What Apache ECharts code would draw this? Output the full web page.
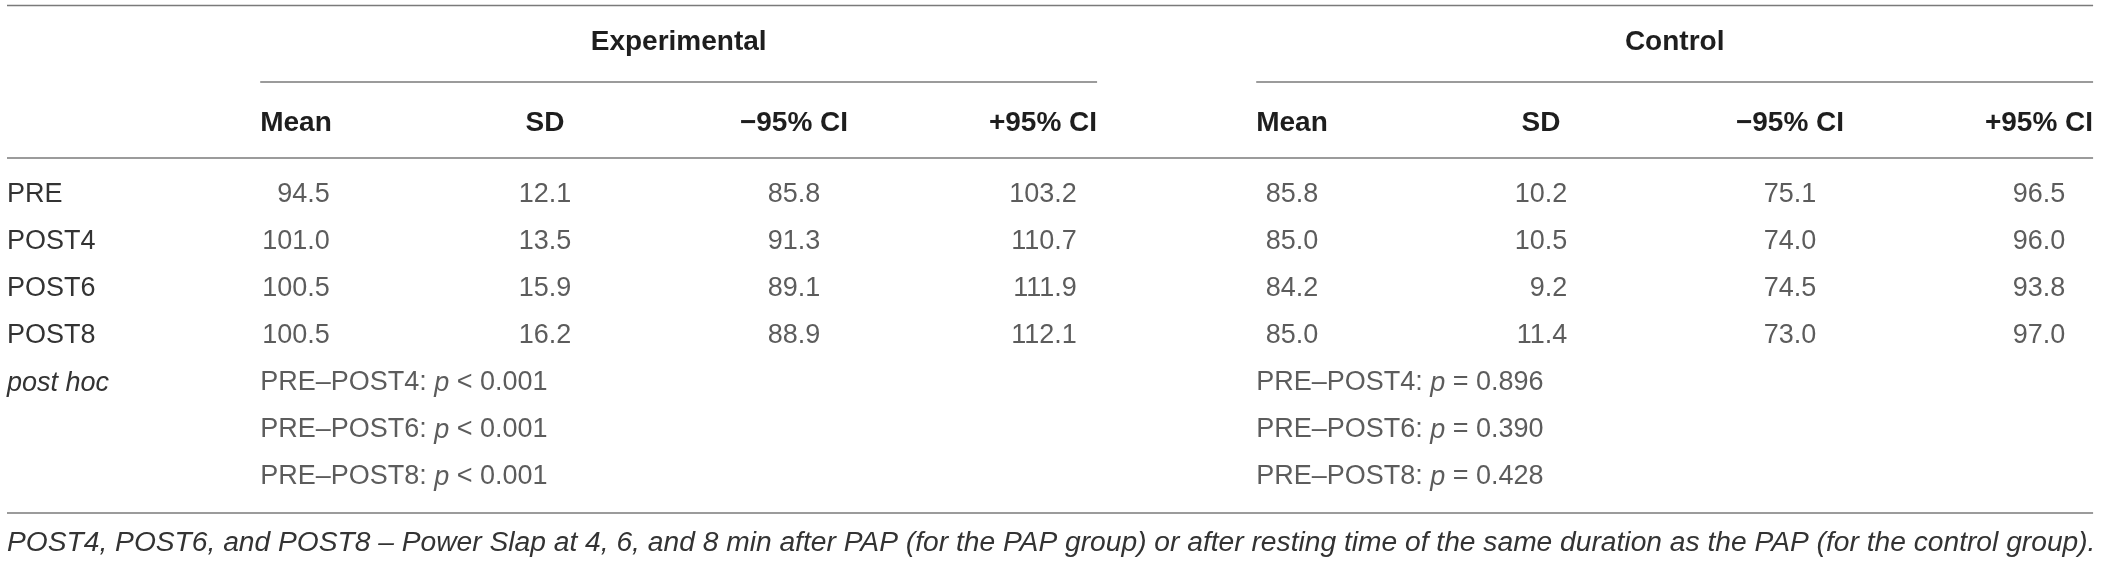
<!DOCTYPE html>
<html>
<head>
<meta charset="utf-8">
<script src="https://cdn.jsdelivr.net/npm/echarts@6.0.0/dist/echarts.min.js"></script>
<style>
  html, body { margin: 0; padding: 0; background: #fff; }
  #chart { width: 2119px; height: 562px; }
</style>
</head>
<body>
<div id="chart"></div>
<script>
// 表格数据
const groups = ['Experimental', 'Control'];
const columns = ['Mean', 'SD', '\u221295% CI', '+95% CI', 'Mean', 'SD', '\u221295% CI', '+95% CI'];
const rowLabels = ['PRE', 'POST4', 'POST6', 'POST8', 'post hoc', '', ''];

const expMean = [94.5, 101.0, 100.5, 100.5];
const expSD = [12.1, 13.5, 15.9, 16.2];
const expLow = [85.8, 91.3, 89.1, 88.9];
const expHigh = [103.2, 110.7, 111.9, 112.1];
const ctrlMean = [85.8, 85.0, 84.2, 85.0];
const ctrlSD = [10.2, 10.5, 9.2, 11.4];
const ctrlLow = [75.1, 74.0, 74.5, 73.0];
const ctrlHigh = [96.5, 96.0, 93.8, 97.0];

const postHocPairs = ['PRE\u2013POST4', 'PRE\u2013POST6', 'PRE\u2013POST8'];
const expPostHoc = ['< 0.001', '< 0.001', '< 0.001'];
const ctrlPostHoc = ['= 0.896', '= 0.390', '= 0.428'];

const footnote = 'POST4, POST6, and POST8 \u2013 Power Slap at 4, 6, and 8 min after PAP (for the PAP group) or after resting time of the same duration as the PAP (for the control group).';

const FONT = '"Liberation Sans", Arial, Helvetica, sans-serif';
const BODY_SIZE = 27;
const HEAD_SIZE = 28;
const NOTE_SIZE = 28.2;
const textColor = '#333';
const headColor = '#1e1e1e';
const ruleColor = '#7a7a7a';

const ctx = document.createElement('canvas').getContext('2d');
function measure(text, font) {
  ctx.font = font;
  return ctx.measureText(text).width;
}
const bodyFont = BODY_SIZE + 'px ' + FONT;
const headFont = 'bold ' + HEAD_SIZE + 'px ' + FONT;
const headW = columns.map((c) => measure(c, headFont));

const valueColumns = [expMean, expSD, expLow, expHigh, ctrlMean, ctrlSD, ctrlLow, ctrlHigh];

const italic = {
  fontStyle: 'italic',
  fontFamily: FONT,
  fontSize: BODY_SIZE,
  color: textColor,
};

// 数值列：右对齐，最宽的数居中于表头
const numberSeries = valueColumns.map((values, c) => {
  const widest = Math.max(...values.map((v) => measure(v.toFixed(1), bodyFont)));
  return {
    type: 'scatter',
    symbolSize: 0,
    silent: true,
    data: values.map((v, r) => [c, r, v]),
    label: {
      show: true,
      position: 'inside',
      align: 'right',
      verticalAlign: 'middle',
      offset: [widest / 2, 0],
      fontFamily: FONT,
      fontSize: BODY_SIZE,
      color: textColor,
      formatter: (p) => p.value[2].toFixed(1),
    },
  };
});

const postHocSeries = [expPostHoc, ctrlPostHoc].map((tests, g) => ({
  type: 'scatter',
  symbolSize: 0,
  silent: true,
  data: tests.map((t, i) => [g * 4, 4 + i, postHocPairs[i], t]),
  label: {
    show: true,
    position: 'inside',
    align: 'left',
    verticalAlign: 'middle',
    offset: [-headW[g * 4] / 2, 0],
    fontFamily: FONT,
    fontSize: BODY_SIZE,
    color: textColor,
    formatter: (p) => p.value[2] + ': {i|p} ' + p.value[3],
    rich: { i: italic },
  },
}));

const gridLeft = 296;
const labelLeft = 7;

const chart = echarts.init(document.getElementById('chart'));
chart.setOption({
  animation: false,
  grid: {
    left: gridLeft,
    right: 80,
    top: 171.5,
    bottom: 61.5,
    containLabel: false,
    outerBoundsMode: 'none',
  },
  xAxis: {
    type: 'category',
    data: columns,
    position: 'top',
    boundaryGap: false,
    axisLine: { show: false },
    axisTick: { show: false },
    splitLine: { show: false },
    axisLabel: {
      interval: 0,
      margin: 48,
      verticalAlign: 'middle',
      fontFamily: FONT,
      fontSize: HEAD_SIZE,
      fontWeight: 'bold',
      color: headColor,
      showMinLabel: true,
      showMaxLabel: true,
    },
  },
  yAxis: {
    type: 'category',
    data: rowLabels,
    inverse: true,
    axisLine: { show: false },
    axisTick: { show: false },
    splitLine: { show: false },
    axisLabel: {
      interval: 0,
      align: 'left',
      margin: gridLeft - labelLeft,
      fontFamily: FONT,
      fontSize: BODY_SIZE,
      color: textColor,
      formatter: (v) => (v === 'post hoc' ? '{i|' + v + '}' : v),
      rich: { i: italic },
    },
  },
  series: [...numberSeries, ...postHocSeries],
});

// 组标题、分隔线和注释
const colPx = columns.map((_, i) => chart.convertToPixel({ xAxisIndex: 0 }, i));
const spans = groups.map((_, g) => [
  colPx[g * 4] - headW[g * 4] / 2,
  colPx[g * 4 + 3] + headW[g * 4 + 3] / 2,
]);
const ruleRight = spans[1][1];

const rule = (x1, x2, y) => ({
  type: 'line',
  silent: true,
  shape: { x1, y1: y, x2, y2: y },
  style: { stroke: ruleColor, lineWidth: 1.5 },
});

chart.setOption({
  graphic: [
    rule(labelLeft, ruleRight, 5.5),
    rule(labelLeft, ruleRight, 158),
    rule(labelLeft, ruleRight, 513),
    ...spans.map((s) => rule(s[0], s[1], 82)),
    ...groups.map((name, g) => ({
      type: 'text',
      silent: true,
      style: {
        text: name,
        x: (spans[g][0] + spans[g][1]) / 2,
        y: 42,
        align: 'center',
        verticalAlign: 'middle',
        fontFamily: FONT,
        fontSize: HEAD_SIZE,
        fontWeight: 'bold',
        fill: headColor,
      },
    })),
    {
      type: 'text',
      silent: true,
      style: {
        text: footnote,
        x: labelLeft,
        y: 543,
        align: 'left',
        verticalAlign: 'middle',
        fontFamily: FONT,
        fontSize: NOTE_SIZE,
        fontStyle: 'italic',
        fill: textColor,
      },
    },
  ],
});
</script>
</body>
</html>
